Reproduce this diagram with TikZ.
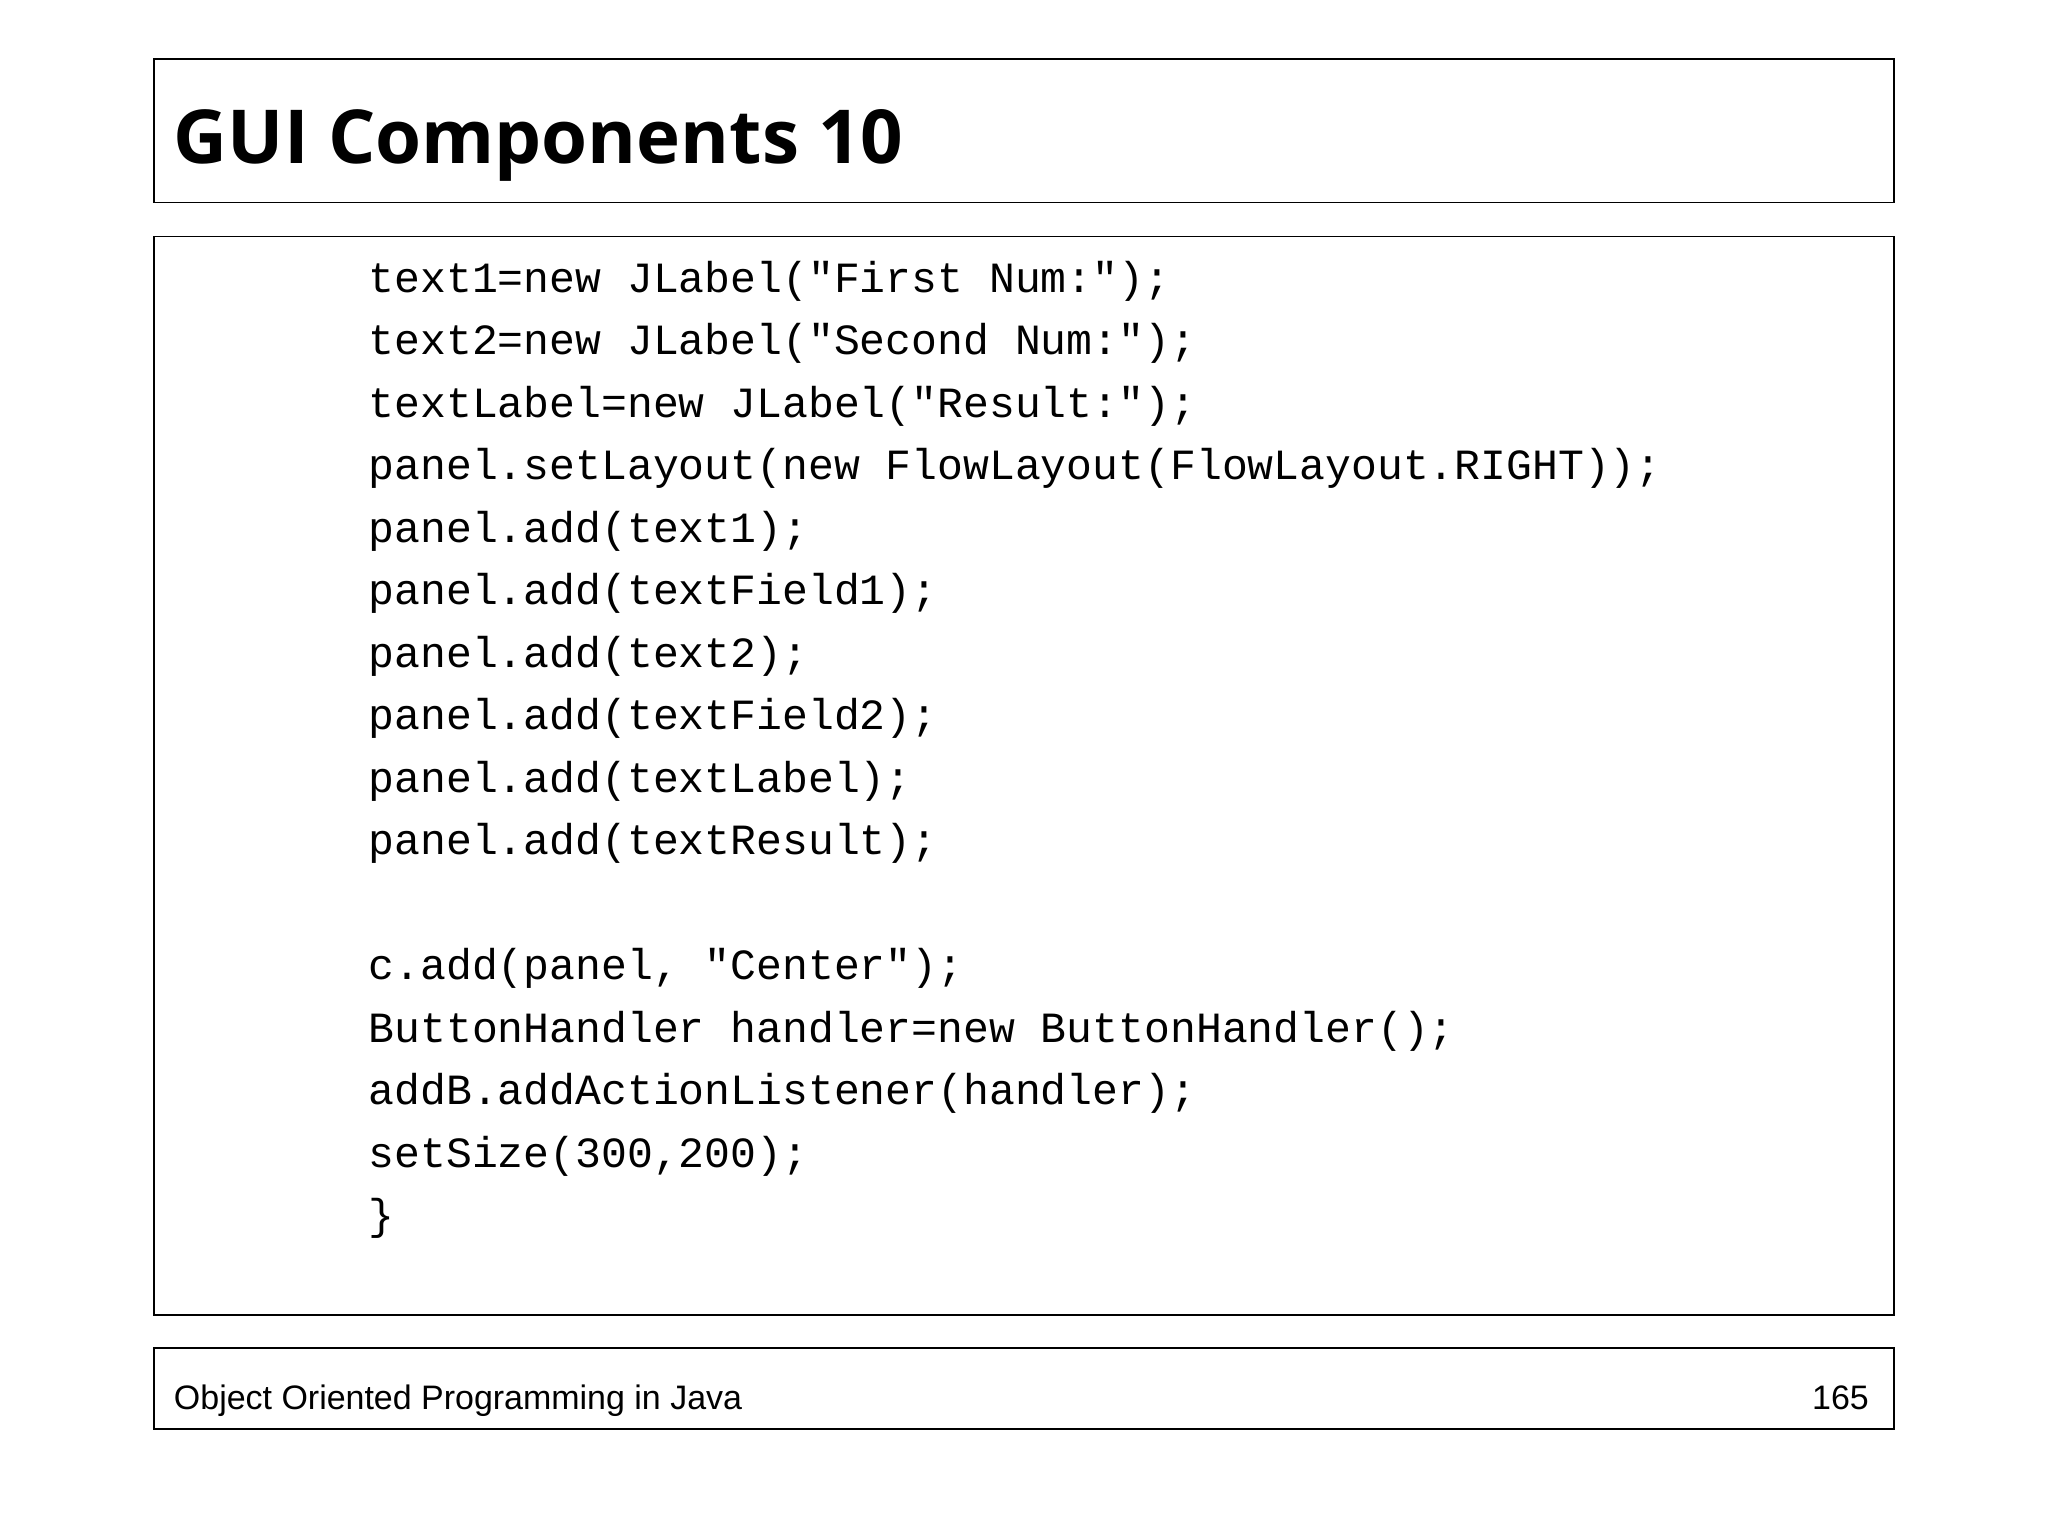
\documentclass[tikz,border=0pt]{standalone}
\usepackage{fontspec}
\setmainfont{Liberation Sans}
\newfontfamily\titlefont{Open Sans}
\newfontfamily\codefont{Liberation Mono}
\begin{document}
\begin{tikzpicture}[x=1pt,y=-1pt,
  frame/.style={draw=black,line width=1.3pt},
  codeline/.style={anchor=mid west,inner sep=0pt,font=\codefont\fontsize{33}{40}\selectfont}]
\useasboundingbox (0,0) rectangle (1568,1176);
\fill[white] (0,0) rectangle (1568,1176);
\draw[frame] (118,45) rectangle (1450,155);
\draw[frame] (118,181) rectangle (1450,1007);
\draw[frame] (118,1032) rectangle (1450,1094);
\node[anchor=base west,inner sep=0pt,font=\titlefont\bfseries\fontsize{57}{66}\selectfont] (title) at (133,125) {GUI Components 10};
\foreach \t [count=\i] in {
 {text1=new JLabel("First Num:");},
 {text2=new JLabel("Second Num:");},
 {textLabel=new JLabel("Result:");},
 {panel.setLayout(new FlowLayout(FlowLayout.RIGHT));},
 {panel.add(text1);},
 {panel.add(textField1);},
 {panel.add(text2);},
 {panel.add(textField2);},
 {panel.add(textLabel);},
 {panel.add(textResult);},
 {},
 {c.add(panel, "Center");},
 {ButtonHandler handler=new ButtonHandler();},
 {addB.addActionListener(handler);},
 {setSize(300,200);},
 {\}}}
 \node[codeline] (c\i) at (282,{221+47.85*(\i-1)}) {\strut\t};
\node[anchor=base west,inner sep=0pt,font=\fontsize{26}{30}\selectfont] (foot) at (133,1079) {Object Oriented Programming in Java};
\node[anchor=base east,inner sep=0pt,font=\fontsize{26}{30}\selectfont] (page) at (1431,1079) {165};
\end{tikzpicture}
\end{document}
